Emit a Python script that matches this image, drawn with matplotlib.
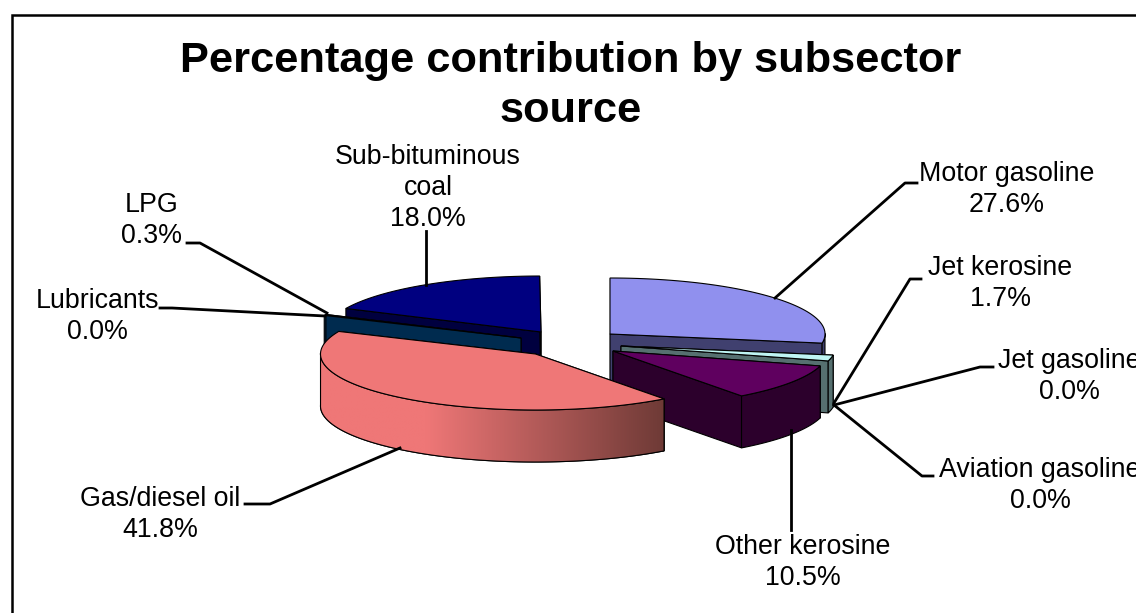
import numpy as np
import matplotlib
matplotlib.use('Agg')
import matplotlib.pyplot as plt
from matplotlib.colors import to_rgb
from matplotlib.patches import Polygon

plt.rcParams['font.family'] = ['Liberation Sans', 'DejaVu Sans']

# Slice values, clockwise from 12 o'clock
names = ['Motor gasoline', 'Jet kerosine', 'Jet gasoline', 'Aviation gasoline', 'Other kerosine',
         'Gas/diesel oil', 'Lubricants', 'LPG', 'Sub-bituminous\ncoal']
shares = [27.6, 1.7, 0.0, 0.0, 10.5, 41.8, 0.0, 0.3, 18.0]

# Styling and layout per slice (canvas uses image pixels)
top_colors = ['#9090ee', '#bff5f3', '#ffffff', '#ffffff', '#5f005f', '#ef7777', '#ffffff', '#0a4f80', '#000080']
side_colors = ['#40406f', '#567070', '#ffffff', '#ffffff', '#2c002c', '#ef7777', '#ffffff', '#002b4f', '#00003f']
centers = [(610, 334), (621, 346), (621, 346), (621, 346), (613, 351),
           (535.5, 354), (521, 338), (521, 338), (541, 332)]
draw_order = [8, 0, 7, 1, 4, 5]
label_pos = [(1007, 161), (1000, 255), (1069, 348), (1040, 457), (803, 534),
             (160, 486), (97, 288), (152, 192), (428, 144)]
leaders = [
    [(775, 298), (905, 183), (917, 183)],
    [(834, 403), (910, 279), (921, 279)],
    [(834, 405), (980, 367), (993, 367)],
    [(834, 405), (922, 476), (933, 476)],
    [(791, 430), (791, 530)],
    [(245, 504), (270, 504), (400, 448)],
    [(160, 308), (172, 308), (325, 316)],
    [(187, 243), (200, 243), (327, 313)],
    [(426, 285), (426, 231)],
]

RX, RY, DEPTH = 215, 56, 52
edges = np.cumsum([0] + shares) * 3.6


def rim_points(cx, cy, a0, a1, n=160):
    t = np.radians(np.linspace(a0, a1, n))
    return cx + RX * np.sin(t), cy - RY * np.cos(t)


def draw_slice(ax, i):
    cx, cy = centers[i]
    a0, a1 = edges[i], edges[i + 1]
    x, y = rim_points(cx, cy, a0, a1)
    ec = dict(edgecolor='black', linewidth=0.8)
    # side walls from the centre out to each cut edge
    for px, py in [(x[0], y[0]), (x[-1], y[-1])]:
        ax.add_patch(Polygon([(cx, cy), (px, py), (px, py + DEPTH), (cx, cy + DEPTH)],
                             facecolor=side_colors[i], **ec))
    # outer wall, only the part facing the viewer
    front = np.cos(np.radians(np.linspace(a0, a1, len(x)))) <= 0.02
    if front.any():
        fx, fy = x[front], y[front]
        wall = Polygon(np.r_[np.c_[fx, fy], np.c_[fx[::-1], fy[::-1] + DEPTH]],
                       facecolor=side_colors[i], **ec)
        ax.add_patch(wall)
        if i == 5:
            # gas/diesel wall fades from light on the left to dark on the right
            light, dark = np.array(to_rgb('#ef7777')), np.array(to_rgb('#6e3a36'))
            f = np.clip((np.linspace(fx.min(), fx.max(), 300) - 425) / (fx.max() - 425), 0, 1)
            strip = (light + (dark - light) * f[:, None])[None, :, :]
            img = ax.imshow(strip, extent=(fx.min(), fx.max(), fy.max() + DEPTH, fy.min()),
                            aspect='auto', zorder=wall.get_zorder(), interpolation='bilinear')
            img.set_clip_path(wall)
            ax.add_patch(Polygon(wall.get_xy(), facecolor='none', **ec))
    ax.add_patch(Polygon(np.r_[[(cx, cy)], np.c_[x, y]], facecolor=top_colors[i], **ec))


fig = plt.figure(figsize=(11.36, 6.13), dpi=100)
ax = fig.add_axes([0, 0, 1, 1])
ax.axis('off')

# chart frame, runs off the right and bottom of the picture
ax.plot([12, 12, 1136], [613, 15, 15], color='black', lw=1.8, solid_joinstyle='miter')

for pts in leaders:
    ax.plot(*zip(*pts), color='black', lw=2)

for i in draw_order:
    draw_slice(ax, i)

ax.set_xlim(0, 1136)
ax.set_ylim(613, 0)

for name, share, (lx, ly) in zip(names, shares, label_pos):
    ax.text(lx, ly, name + '\n%.1f%%' % share, ha='center', va='top',
            fontsize=19.3, linespacing=1.25, color='black', clip_on=True)

ax.text(571, 41, 'Percentage contribution by subsector\nsource', ha='center', va='top',
        fontsize=31.2, fontweight='bold', linespacing=1.32)

fig.savefig('out.png', dpi=100)
